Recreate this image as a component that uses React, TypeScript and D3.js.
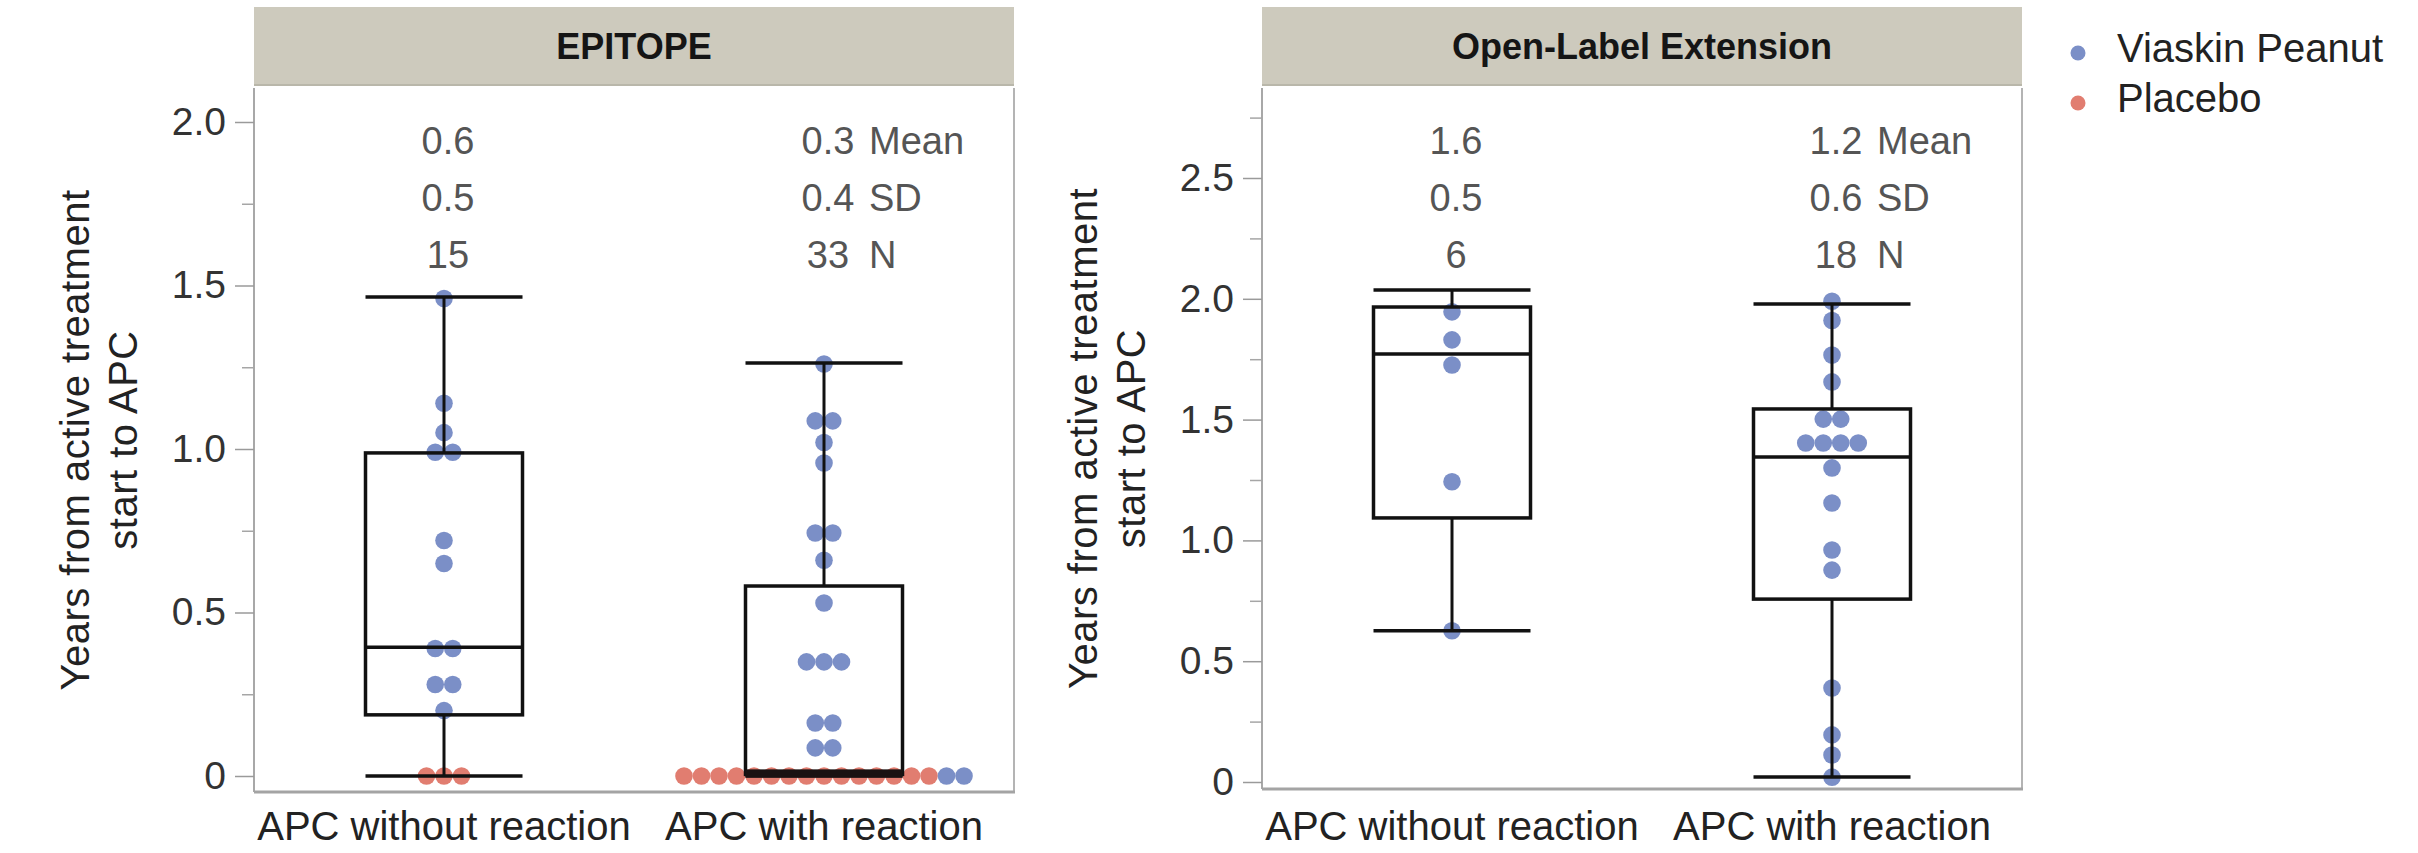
import React, { useEffect, useRef } from "react";
import * as d3 from "d3";

// categories and panels
const categories = ["APC without reaction", "APC with reaction"];
const panelTitles = ["EPITOPE", "Open-Label Extension"];
const armNames = ["Viaskin Peanut", "Placebo"];
const armColors = { V: "#7b8fc7", P: "#e17d70" };

// points: [years, arm]  V = Viaskin Peanut, P = Placebo
const epitopeWithout = [
  [1.46, "V"], [1.14, "V"], [1.05, "V"], [0.99, "V"], [0.99, "V"],
  [0.72, "V"], [0.65, "V"], [0.39, "V"], [0.39, "V"], [0.28, "V"],
  [0.28, "V"], [0.2, "V"], [0, "P"], [0, "P"], [0, "P"],
];
const epitopeWith = [
  [1.26, "V"], [1.086, "V"], [1.086, "V"], [1.02, "V"], [0.957, "V"],
  [0.743, "V"], [0.743, "V"], [0.66, "V"], [0.529, "V"],
  [0.349, "V"], [0.349, "V"], [0.349, "V"], [0.162, "V"], [0.162, "V"],
  [0.086, "V"], [0.086, "V"],
  [0, "P"], [0, "P"], [0, "P"], [0, "P"], [0, "P"], [0, "P"], [0, "P"],
  [0, "P"], [0, "P"], [0, "P"], [0, "P"], [0, "P"], [0, "P"], [0, "P"],
  [0, "P"], [0, "V"], [0, "V"],
];
const oleWithout = [
  [1.946, "V"], [1.83, "V"], [1.726, "V"], [1.243, "V"], [0.626, "V"],
];
const oleWith = [
  [1.99, "V"], [1.91, "V"], [1.767, "V"], [1.656, "V"], [1.502, "V"],
  [1.502, "V"], [1.403, "V"], [1.403, "V"], [1.403, "V"], [1.403, "V"],
  [1.3, "V"], [1.155, "V"], [0.96, "V"], [0.877, "V"], [0.389, "V"],
  [0.195, "V"], [0.112, "V"], [0.02, "V"],
];

// box summaries: [low whisker, q1, median, q3, high whisker]
const epitopeBoxes = [
  [0, 0.187, 0.394, 0.988, 1.465],
  [0, 0.005, 0.005, 0.581, 1.263],
];
const oleBoxes = [
  [0.626, 1.093, 1.772, 1.966, 2.036],
  [0.021, 0.757, 1.345, 1.544, 1.978],
];

// summary text
const epitopeStats = [["0.6", "0.5", "15"], ["0.3", "0.4", "33"]];
const oleStats = [["1.6", "0.5", "6"], ["1.2", "0.6", "18"]];
const statLabels = ["Mean", "SD", "N"];

// axis ticks
const epitopeTicks = [0, 0.5, 1.0, 1.5, 2.0];
const epitopeMinor = [0.25, 0.75, 1.25, 1.75];
const oleTicks = [0, 0.5, 1.0, 1.5, 2.0, 2.5];
const oleMinor = [0.25, 0.75, 1.25, 1.75, 2.25, 2.75];

const App = () => {
  const svgRef = useRef(null);

  useEffect(() => {
    const svg = d3.select(svgRef.current);
    svg.selectAll("*").remove();
    const font = "'Liberation Sans', Arial, Helvetica, sans-serif";
    const fmt = (d) => (d === 0 ? "0" : d3.format(".1f")(d));

    const panels = [
      {
        title: panelTitles[0], left: 254, right: 1014,
        y: d3.scaleLinear().domain([0, 2]).range([776, 122]), yMin: -0.049,
        ticks: epitopeTicks, minor: epitopeMinor,
        groups: [epitopeWithout, epitopeWith], boxes: epitopeBoxes, stats: epitopeStats,
      },
      {
        title: panelTitles[1], left: 1262, right: 2022,
        y: d3.scaleLinear().domain([0, 2.5]).range([782, 178]), yMin: -0.029,
        ticks: oleTicks, minor: oleMinor,
        groups: [oleWithout, oleWith], boxes: oleBoxes, stats: oleStats,
      },
    ];

    const top = 88;
    const half = 78.5;
    const r = 8.8;
    const step = 17.5;

    panels.forEach((p) => {
      const g = svg.append("g");
      const x = d3.scalePoint().domain(categories).range([p.left, p.right]).padding(0.5);
      const bottom = p.y(p.yMin);

      // header strip
      g.append("rect")
        .attr("x", p.left).attr("y", 7)
        .attr("width", p.right - p.left).attr("height", 77)
        .attr("fill", "#cdcabd");
      g.append("line")
        .attr("x1", p.left).attr("x2", p.right).attr("y1", 85).attr("y2", 85)
        .attr("stroke", "#b9b7aa").attr("stroke-width", 2);
      g.append("text")
        .attr("x", (p.left + p.right) / 2).attr("y", 59)
        .attr("text-anchor", "middle")
        .style("font-family", font).style("font-size", "36px").style("font-weight", "bold")
        .attr("fill", "#151515")
        .text(p.title);

      // frame
      g.append("line")
        .attr("x1", p.left).attr("x2", p.left).attr("y1", top).attr("y2", bottom)
        .attr("stroke", "#a8a8a8").attr("stroke-width", 2);
      g.append("line")
        .attr("x1", p.right).attr("x2", p.right).attr("y1", top).attr("y2", bottom)
        .attr("stroke", "#b4b4b4").attr("stroke-width", 2);
      g.append("line")
        .attr("x1", p.left).attr("x2", p.right + 1).attr("y1", bottom).attr("y2", bottom)
        .attr("stroke", "#a4a4a4").attr("stroke-width", 3);

      // y axis
      const ax = g.append("g")
        .attr("transform", `translate(${p.left},0)`)
        .call(d3.axisLeft(p.y).tickValues(p.ticks).tickSize(19).tickPadding(9).tickFormat(fmt));
      ax.select(".domain").remove();
      ax.selectAll("line").attr("stroke", "#9a9a9a").attr("stroke-width", 1.5);
      ax.selectAll("text")
        .style("font-family", font).style("font-size", "39px").attr("fill", "#333");

      const mx = g.append("g")
        .attr("transform", `translate(${p.left},0)`)
        .call(d3.axisLeft(p.y).tickValues(p.minor).tickSize(12).tickFormat(() => ""));
      mx.select(".domain").remove();
      mx.selectAll("line").attr("stroke", "#a6a6a6").attr("stroke-width", 1.5);

      // y title
      const midY = (top + bottom) / 2;
      [["Years from active treatment", 165], ["start to APC", 117]].forEach(([txt, off]) => {
        g.append("text")
          .attr("transform", `translate(${p.left - off},${midY}) rotate(-90)`)
          .attr("text-anchor", "middle")
          .style("font-family", font).style("font-size", "40px")
          .style("letter-spacing", "0.5px")
          .attr("fill", "#222")
          .text(txt);
      });

      // x labels
      g.selectAll(".xlab")
        .data(categories)
        .enter()
        .append("text")
        .attr("x", (d) => x(d))
        .attr("y", 840)
        .attr("text-anchor", "middle")
        .style("font-family", font).style("font-size", "40px")
        .attr("fill", "#222")
        .text((d) => d);

      // dots (stacked in rows of equal value)
      p.groups.forEach((pts, gi) => {
        const cx = x(categories[gi]);
        const rows = d3.group(pts, (d) => d[0]);
        rows.forEach((row, v) => {
          row.forEach((d, i) => {
            g.append("circle")
              .attr("cx", cx + (i - (row.length - 1) / 2) * step)
              .attr("cy", p.y(v))
              .attr("r", r)
              .attr("fill", armColors[d[1]]);
          });
        });
      });

      // boxes and whiskers
      p.boxes.forEach(([lo, q1, med, q3, hi], gi) => {
        const cx = x(categories[gi]);
        const bg = g.append("g").attr("stroke", "#111").attr("fill", "none");
        bg.append("line")
          .attr("x1", cx).attr("x2", cx).attr("y1", p.y(hi)).attr("y2", p.y(q3))
          .attr("stroke-width", 3);
        bg.append("line")
          .attr("x1", cx).attr("x2", cx).attr("y1", p.y(q1)).attr("y2", p.y(lo))
          .attr("stroke-width", 3);
        bg.append("rect")
          .attr("x", cx - half).attr("y", p.y(q3))
          .attr("width", half * 2).attr("height", p.y(q1) - p.y(q3))
          .attr("stroke-width", 3.5);
        [lo, hi, med].forEach((v) => {
          bg.append("line")
            .attr("x1", cx - half).attr("x2", cx + half)
            .attr("y1", p.y(v)).attr("y2", p.y(v))
            .attr("stroke-width", 3.5);
        });
        // median coinciding with the lower quartile reads as one heavy bar
        if (Math.abs(p.y(med) - p.y(q1)) < 4) {
          bg.append("rect")
            .attr("x", cx - half).attr("y", p.y(q1) - 5)
            .attr("width", half * 2).attr("height", 8)
            .attr("fill", "#1a1212").attr("stroke", "none");
        }
      });

      // summary statistics
      const statY = [154, 211, 268];
      p.stats.forEach((vals, gi) => {
        const cx = x(categories[gi]);
        vals.forEach((v, li) => {
          g.append("text")
            .attr("x", cx + 4).attr("y", statY[li])
            .attr("text-anchor", "middle")
            .style("font-family", font).style("font-size", "38px")
            .attr("fill", "#555")
            .text(v);
          if (gi === categories.length - 1) {
            g.append("text")
              .attr("x", cx + 45).attr("y", statY[li])
              .style("font-family", font).style("font-size", "38px")
              .attr("fill", "#555")
              .text(statLabels[li]);
          }
        });
      });
    });

    // legend
    const lg = svg.append("g");
    armNames.forEach((name, i) => {
      const yy = 53 + i * 50;
      lg.append("circle")
        .attr("cx", 2078).attr("cy", yy).attr("r", 7.5)
        .attr("fill", i === 0 ? armColors.V : armColors.P);
      lg.append("text")
        .attr("x", 2117).attr("y", yy + 9)
        .style("font-family", font).style("font-size", "40px")
        .attr("fill", "#222")
        .text(name);
    });
  }, []);

  return (
    <div>
      <svg
        ref={svgRef}
        width={2418}
        height={853}
        style={{ position: "absolute", left: 0, top: 0, background: "#fff" }}
      ></svg>
    </div>
  );
};

export default App;
